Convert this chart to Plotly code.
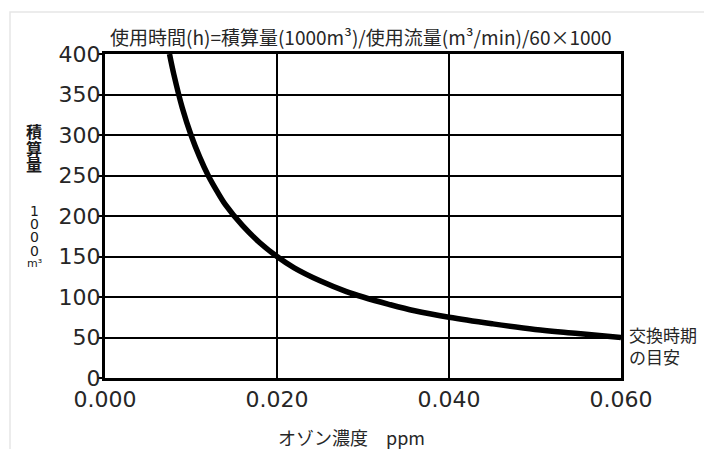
import plotly.graph_objects as go

# Data
ozone_ppm = [0.0075, 0.008, 0.009, 0.010, 0.011, 0.012, 0.013, 0.014, 0.016, 0.018,
             0.020, 0.022, 0.025, 0.028, 0.030, 0.033, 0.036, 0.040, 0.045, 0.050,
             0.055, 0.060]
volume_1000m3 = [400, 375, 333, 300, 273, 250, 231, 214, 188, 167,
                 150, 136, 120, 107, 100, 91, 83, 75, 67, 60,
                 55, 50]
x_ticks = [0.0, 0.02, 0.04, 0.06]
x_ticklabels = ["0.000", "0.020", "0.040", "0.060"]
y_ticks = [0, 50, 100, 150, 200, 250, 300, 350, 400]

title_text = "使用時間(h)=積算量(1000m³)/使用流量(m³/min)/60×1000"
x_title = "オゾン濃度　ppm"
y_title_chars = ["積", "算", "量"]
y_unit_chars = ["1", "0", "0", "0", "m³"]
note_text = "交換時期<br>の目安"

# page offset of the figure inside the browser (default body margin)
OFF = 8
W, H = 712 - OFF, 449 - OFF
L, R, T, B = 105 - OFF, 712 - 621, 54 - OFF, 449 - 378
pw, ph = 621 - 105, 378 - 54


def px(xs):
    return (xs - 105) / pw


def py(ys):
    return (378 - ys) / ph


fig = go.Figure()
fig.add_trace(go.Scatter(
    x=ozone_ppm, y=volume_1000m3, mode="lines",
    line=dict(color="black", width=5.5, shape="spline", smoothing=1.0),
    hoverinfo="skip", showlegend=False, cliponaxis=True,
))

tick_font = dict(family="DejaVu Sans", size=22, color="#262626")

fig.update_xaxes(
    range=[0, 0.06], tickvals=x_ticks, ticktext=x_ticklabels,
    showgrid=True, gridcolor="black", gridwidth=2, zeroline=False,
    showline=True, linecolor="black", linewidth=3, mirror=True,
    ticks="", tickfont=tick_font, ticklabelstandoff=0,
)
fig.update_yaxes(
    range=[0, 400], tickvals=y_ticks,
    showgrid=True, gridcolor="black", gridwidth=2, zeroline=False,
    showline=True, linecolor="black", linewidth=3, mirror=True,
    ticks="outside", ticklen=4, tickwidth=2, tickcolor="black",
    tickfont=tick_font, ticklabelstandoff=-7,
)

annotations = [
    dict(text=title_text, x=px(108), y=py(37), xref="paper", yref="paper",
         xanchor="left", yanchor="middle", showarrow=False,
         font=dict(family="Noto Sans CJK JP", size=19, color="#262626")),
    dict(text=x_title, x=px(351), y=py(437), xref="paper", yref="paper",
         xanchor="center", yanchor="middle", showarrow=False,
         font=dict(family="Noto Sans CJK JP", size=18, color="#262626")),
    dict(text=note_text, x=px(627), y=py(345), xref="paper", yref="paper",
         xanchor="left", yanchor="middle", align="left", showarrow=False,
         font=dict(family="Noto Sans CJK JP", size=17, color="#262626")),
]
for i, ch in enumerate(y_title_chars):
    annotations.append(dict(
        text="<b>" + ch + "</b>", x=px(34), y=py(131 + 16.5 * i), xref="paper", yref="paper",
        xanchor="center", yanchor="middle", showarrow=False,
        font=dict(family="Noto Sans CJK JP", size=16, color="#1a1a1a"),
    ))
for i, ch in enumerate(y_unit_chars):
    annotations.append(dict(
        text=ch, x=px(34), y=py(211 + 13.2 * i), xref="paper", yref="paper",
        xanchor="center", yanchor="middle", showarrow=False,
        font=dict(family="DejaVu Sans", size=14 if i < 4 else 11, color="#1a1a1a"),
    ))

shapes = [dict(
    type="rect", xref="paper", yref="paper",
    x0=px(10), x1=px(760), y0=py(500), y1=py(12),
    line=dict(color="#e6e6e6", width=1.5), fillcolor="rgba(0,0,0,0)", layer="below",
)]

fig.update_layout(
    width=W, height=H,
    margin=dict(l=L, r=R, t=T, b=B, autoexpand=False),
    paper_bgcolor="white", plot_bgcolor="white",
    annotations=annotations, shapes=shapes,
    showlegend=False,
)

fig.write_html("out.html")
